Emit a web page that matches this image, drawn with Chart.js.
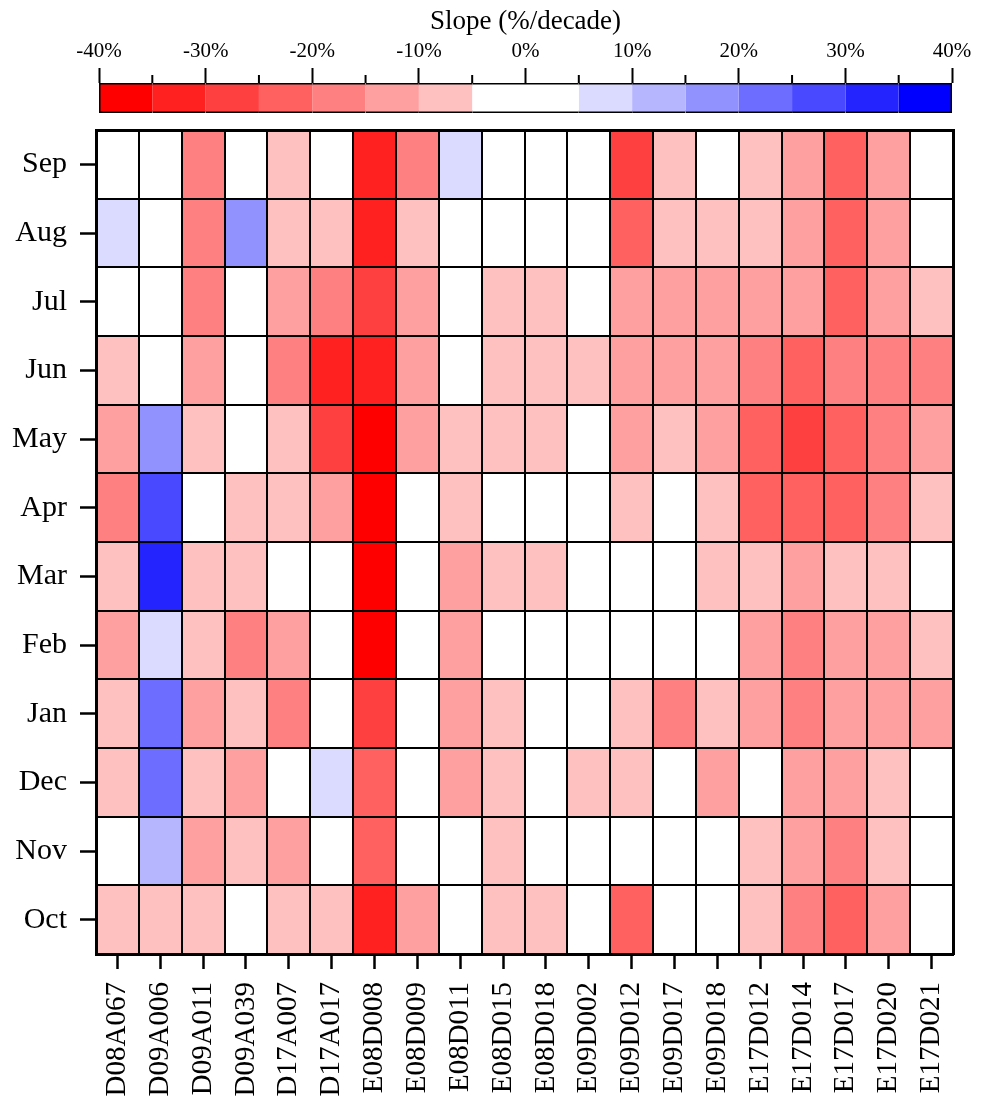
<!DOCTYPE html>
<html>
<head>
<meta charset="utf-8">
<script src="https://cdn.jsdelivr.net/npm/chart.js@4"></script>
<style>
  body { margin: 0; background: #fff; }
  #wrap { position: relative; width: 986px; height: 1104px; }
  #wrap canvas { position: absolute; left: 0; top: 0; }
</style>
</head>
<body>
<div id="wrap">
  <canvas id="heat" width="986" height="1104"></canvas>
  <canvas id="bar" width="986" height="125"></canvas>
</div>
<script>
// --- Data ---
const stations = ["D08A067", "D09A006", "D09A011", "D09A039", "D17A007", "D17A017", "E08D008", "E08D009", "E08D011", "E08D015",
                  "E08D018", "E09D002", "E09D012", "E09D017", "E09D018", "E17D012", "E17D014", "E17D017", "E17D020", "E17D021"];

// slope in %/decade, one value per station
const sep = [0, 0, -17, 0, -7, 0, -32, -17, 7, 0, 0, 0, -27, -7, 0, -7, -12, -22, -12, 0];
const aug = [7, 0, -17, 17, -7, -7, -32, -7, 0, 0, 0, 0, -22, -7, -7, -7, -12, -22, -12, 0];
const jul = [0, 0, -17, 0, -12, -17, -27, -12, 0, -7, -7, 0, -12, -12, -12, -12, -12, -22, -12, -7];
const jun = [-7, 0, -12, 0, -17, -32, -32, -12, 0, -7, -7, -7, -12, -12, -12, -17, -22, -17, -17, -17];
const may = [-12, 17, -7, 0, -7, -27, -37, -12, -7, -7, -7, 0, -12, -7, -12, -22, -27, -22, -17, -12];
const apr = [-17, 27, 0, -7, -7, -12, -37, 0, -7, 0, 0, 0, -7, 0, -7, -22, -22, -22, -17, -7];
const mar = [-7, 32, -7, -7, 0, 0, -37, 0, -12, -7, -7, 0, 0, 0, -7, -7, -12, -7, -7, 0];
const feb = [-12, 7, -7, -17, -12, 0, -37, 0, -12, 0, 0, 0, 0, 0, 0, -12, -17, -12, -12, -7];
const jan = [-7, 22, -12, -7, -17, 0, -27, 0, -12, -7, 0, 0, -7, -17, -7, -12, -17, -12, -12, -12];
const dec = [-7, 22, -7, -12, 0, 7, -22, 0, -12, -7, 0, -7, -7, 0, -12, 0, -12, -12, -7, 0];
const nov = [0, 12, -12, -7, -12, 0, -22, 0, 0, -7, 0, 0, 0, 0, 0, -7, -12, -17, -7, 0];
const oct = [-7, -7, -7, 0, -7, -7, -32, -12, 0, -7, -7, 0, -22, 0, 0, -7, -17, -22, -12, 0];

// bottom row first
const months = ["Oct", "Nov", "Dec", "Jan", "Feb", "Mar", "Apr", "May", "Jun", "Jul", "Aug", "Sep"];
const monthValues = [oct, nov, dec, jan, feb, mar, apr, may, jun, jul, aug, sep];

// colour bar
const binEdges = [-40, -35, -30, -25, -20, -15, -10, -5, 5, 10, 15, 20, 25, 30, 35, 40];
const majorTicks = [-40, -30, -20, -10, 0, 10, 20, 30, 40];
const minorTicks = [-35, -25, -15, -5, 5, 15, 25, 35];

const palette = ["#ff0000", "#ff2020", "#ff4040", "#ff6060", "#ff8080", "#ffa0a0", "#ffc0c0", "#ffffff",
                 "#dbdbff", "#b6b6ff", "#9292ff", "#6d6dff", "#4949ff", "#2424ff", "#0000ff"];

const FONT = "'Times New Roman', 'Liberation Serif', serif";

function colorFor(v) {
  for (let i = 0; i < palette.length; i++) {
    if (v < binEdges[i + 1]) return palette[i];
  }
  return palette[palette.length - 1];
}

// --- Heatmap ---
const heatSets = months.map((m, r) => ({
  label: m,
  data: stations.map(() => 1),
  backgroundColor: monthValues[r].map(colorFor),
  borderWidth: 0,
  inflateAmount: 0.5,
  barPercentage: 1,
  categoryPercentage: 1
}));

const frame = { display: true, width: 3, color: "#000", z: 2 };
const cellLines = { drawOnChartArea: true, drawTicks: false, color: "#000", lineWidth: 2, z: 1 };

new Chart(document.getElementById("heat"), {
  type: "bar",
  data: { labels: stations, datasets: heatSets },
  options: {
    responsive: false,
    animation: false,
    layout: { padding: { left: 0, top: 130, right: 33, bottom: 0 } },
    plugins: { legend: { display: false }, tooltip: { enabled: false } },
    scales: {
      x: {
        stacked: true,
        border: frame,
        grid: { offset: false, drawOnChartArea: false, tickLength: 15, tickWidth: 2.5, tickColor: "#000" },
        ticks: { color: "#000", font: { family: FONT, size: 29 }, padding: 13, autoSkip: false, minRotation: 90, maxRotation: 90 },
        afterFit: s => { s.height = 150; }
      },
      y: {
        stacked: true,
        min: 0,
        max: 12,
        border: frame,
        grid: { drawOnChartArea: false, tickLength: 16, tickWidth: 2.5, tickColor: "#000" },
        afterBuildTicks: s => { s.ticks = months.map((m, i) => ({ value: i + 0.5 })); },
        ticks: { color: "#000", font: { family: FONT, size: 30 }, padding: 13, callback: (v, i) => months[i] },
        afterFit: s => { s.width = 96; }
      },
      // top frame + cell separators between stations
      x2: {
        type: "category",
        position: "top",
        border: frame,
        grid: Object.assign({ offset: true }, cellLines),
        ticks: { display: false },
        afterFit: s => { s.height = 0; }
      },
      // right frame + cell separators between months
      y2: {
        type: "linear",
        position: "right",
        min: 0,
        max: 12,
        border: frame,
        grid: cellLines,
        ticks: { display: false, stepSize: 1 },
        afterFit: s => { s.width = 0; }
      }
    }
  }
});

// --- Colour bar ---
const barSets = palette.map((c, i) => ({
  data: [[binEdges[i], binEdges[i + 1]]],
  backgroundColor: c,
  borderColor: "#000",
  borderWidth: { top: 2, bottom: 2, left: i === 0 ? 2 : 0, right: i === palette.length - 1 ? 2 : 0 },
  borderSkipped: false,
  inflateAmount: 0.5,
  grouped: false,
  barPercentage: 1,
  categoryPercentage: 1
}));

const minorTickPlugin = {
  id: "minorTicks",
  afterDraw(chart) {
    const { ctx, chartArea, scales } = chart;
    ctx.save();
    ctx.strokeStyle = "#000";
    ctx.lineWidth = 2;
    minorTicks.forEach(v => {
      const px = scales.x.getPixelForValue(v);
      ctx.beginPath();
      ctx.moveTo(px, chartArea.top - 8);
      ctx.lineTo(px, chartArea.top);
      ctx.stroke();
    });
    ctx.restore();
  }
};

new Chart(document.getElementById("bar"), {
  type: "bar",
  data: { labels: ["cb"], datasets: barSets },
  options: {
    indexAxis: "y",
    responsive: false,
    animation: false,
    layout: { padding: { left: 99, right: 34, top: 0, bottom: 12 } },
    plugins: { legend: { display: false }, tooltip: { enabled: false } },
    scales: {
      x: {
        type: "linear",
        position: "top",
        min: -40,
        max: 40,
        border: { display: false },
        grid: { drawOnChartArea: false, tickLength: 15, tickWidth: 2, tickColor: "#000" },
        afterBuildTicks: s => { s.ticks = majorTicks.map(v => ({ value: v })); },
        ticks: { color: "#000", font: { family: FONT, size: 21 }, padding: 4, callback: v => v + "%" },
        title: { display: true, text: "Slope (%/decade)", color: "#000", font: { family: FONT, size: 27 }, padding: { top: 6, bottom: 0 } },
        afterFit: s => { s.height = 83; }
      },
      y: { display: false }
    }
  },
  plugins: [minorTickPlugin]
});
</script>
</body>
</html>
